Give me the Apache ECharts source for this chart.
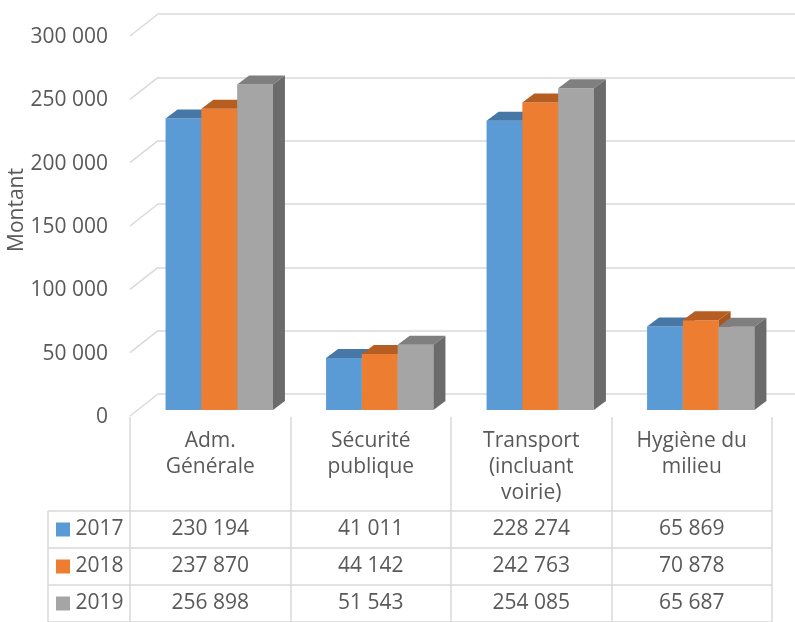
<!DOCTYPE html>
<html>
<head>
<meta charset="utf-8">
<script src="https://cdn.jsdelivr.net/npm/echarts@6/dist/echarts.min.js"></script>
<style>
  html, body { margin: 0; padding: 0; background: #fff; }
  #chart { width: 795px; height: 622px; }
</style>
</head>
<body>
<div id="chart"></div>
<script>
// données
const categories = ['Adm.\nGénérale', 'Sécurité\npublique', 'Transport\n(incluant\nvoirie)', 'Hygiène du\nmilieu'];
const years = ['2017', '2018', '2019'];
const v2017 = [230194, 41011, 228274, 65869];
const v2018 = [237870, 44142, 242763, 70878];
const v2019 = [256898, 51543, 254085, 65687];
const yTicks = [0, 50000, 100000, 150000, 200000, 250000, 300000];

const values = [v2017, v2018, v2019];
const front = ['#5b9bd5', '#ed7d31', '#a5a5a5'];
const top_ = ['#4677a6', '#b65e22', '#7f7f7f'];
const side = ['#3e6a94', '#a9561d', '#6b6b6b'];
const txt = '#595959';
const grid = '#d9d9d9';
const font = 'Open Sans';
const DX = 12, DY = 9;      // profondeur des barres
const WX = 28, WY = 22;     // profondeur du plancher

function fmt(v) {
  return String(v).replace(/\B(?=(\d{3})+(?!\d))/g, ' ');
}

const chart = echarts.init(document.getElementById('chart'));

// barres 3D : face avant + dessus + côté
function barSeries(s) {
  return {
    type: 'custom',
    xAxisIndex: 2,
    yAxisIndex: 2,
    data: values[s].map((v, i) => [i, v]),
    encode: { x: 0, y: 1 },
    renderItem: function (params, api) {
      const band = api.size([1, 0])[0];
      const bw = band * 0.223;
      const c = api.coord([api.value(0), 0]);
      const t = api.coord([api.value(0), api.value(1)]);
      const x0 = c[0] - 1.5 * bw + s * bw;
      const yT = t[1], yB = c[1];
      return {
        type: 'group',
        children: [
          { type: 'rect', shape: { x: x0, y: yT, width: bw, height: yB - yT }, style: { fill: front[s] } },
          { type: 'polygon', shape: { points: [[x0, yT], [x0 + bw, yT], [x0 + bw + DX, yT - DY], [x0 + DX, yT - DY]] }, style: { fill: top_[s] } },
          { type: 'polygon', shape: { points: [[x0 + bw, yT], [x0 + bw + DX, yT - DY], [x0 + bw + DX, yB - DY], [x0 + bw, yB]] }, style: { fill: side[s] } }
        ]
      };
    }
  };
}

// valeurs du tableau
function tableSeries(s) {
  return {
    type: 'custom',
    xAxisIndex: 3,
    yAxisIndex: 3,
    data: values[s].map((v, i) => [i, years[s], v]),
    encode: { x: 0, y: 1 },
    renderItem: function (params, api) {
      const p = api.coord([api.value(0), years[s]]);
      return {
        type: 'text',
        style: {
          x: p[0], y: p[1], text: fmt(api.value(2)),
          fill: txt, font: '21px "' + font + '"', align: 'center', verticalAlign: 'middle'
        }
      };
    }
  };
}

const option = {
  animation: false,
  textStyle: { fontFamily: font },
  grid: [
    { left: 158, top: 14, width: 642, height: 380 },  // mur du fond
    { left: 130, top: 37, width: 642, height: 380 },  // plan avant (étiquettes)
    { left: 139, top: 30, width: 642, height: 380 },  // barres
    { left: 130, top: 511, width: 642, height: 115.5 } // tableau
  ],
  xAxis: [
    { gridIndex: 0, type: 'category', data: categories, show: false },
    {
      gridIndex: 1, type: 'category', data: categories,
      axisLine: { show: false },
      axisTick: { show: true, length: 206, lineStyle: { color: grid, width: 1.5 } },
      axisLabel: { interval: 0, margin: 11, fontSize: 21, lineHeight: 26, color: txt, align: 'center' }
    },
    { gridIndex: 2, type: 'category', data: categories, show: false },
    { gridIndex: 3, type: 'category', data: categories, show: false }
  ],
  yAxis: [
    {
      gridIndex: 0, type: 'value', min: 0, max: 300000, interval: 50000,
      axisLine: { show: false }, axisTick: { show: false }, axisLabel: { show: false },
      splitLine: { lineStyle: { color: grid, width: 1.5 } }
    },
    {
      gridIndex: 1, type: 'value', min: 0, max: 300000, interval: 50000,
      axisLine: { show: false }, axisTick: { show: false }, splitLine: { show: false },
      axisLabel: { margin: 22, fontSize: 21, color: txt, formatter: fmt }
    },
    { gridIndex: 2, type: 'value', min: 0, max: 300000, interval: 50000, show: false, splitLine: { show: false } },
    {
      gridIndex: 3, type: 'category', data: years, inverse: true,
      axisLine: { show: false },
      axisTick: { show: true, length: 82, lineStyle: { color: grid, width: 1.5 } },
      splitLine: { show: true, lineStyle: { color: grid, width: 1.5 } },
      axisLabel: {
        margin: 74, align: 'left', fontSize: 21, color: txt,
        formatter: function (v) { return '{s' + years.indexOf(v) + '|}' + ' ' + v; },
        rich: {
          s0: { width: 14, height: 14, backgroundColor: front[0] },
          s1: { width: 14, height: 14, backgroundColor: front[1] },
          s2: { width: 14, height: 14, backgroundColor: front[2] }
        }
      }
    }
  ],
  graphic: [
    { type: 'line', shape: { x1: 48, y1: 511, x2: 48, y2: 622 }, style: { stroke: grid, lineWidth: 1.5 } },
    {
      type: 'text', x: 17, y: 210, rotation: Math.PI / 2,
      style: { text: 'Montant', fill: txt, font: '21px "' + font + '"', align: 'center', verticalAlign: 'middle' }
    }
  ],
  series: [
    {
      // diagonales du mur vers le plan avant
      type: 'custom',
      xAxisIndex: 0,
      yAxisIndex: 0,
      data: yTicks.map(t => [0, t]),
      encode: { x: 0, y: 1 },
      silent: true,
      renderItem: function (params, api) {
        const y = api.coord([0, api.value(1)])[1];
        const x = params.coordSys.x;
        return { type: 'line', shape: { x1: x, y1: y, x2: x - WX, y2: y + WY }, style: { stroke: grid, lineWidth: 1.5 } };
      }
    },
    barSeries(0), barSeries(1), barSeries(2),
    tableSeries(0), tableSeries(1), tableSeries(2)
  ]
};

chart.setOption(option);
</script>
</body>
</html>
